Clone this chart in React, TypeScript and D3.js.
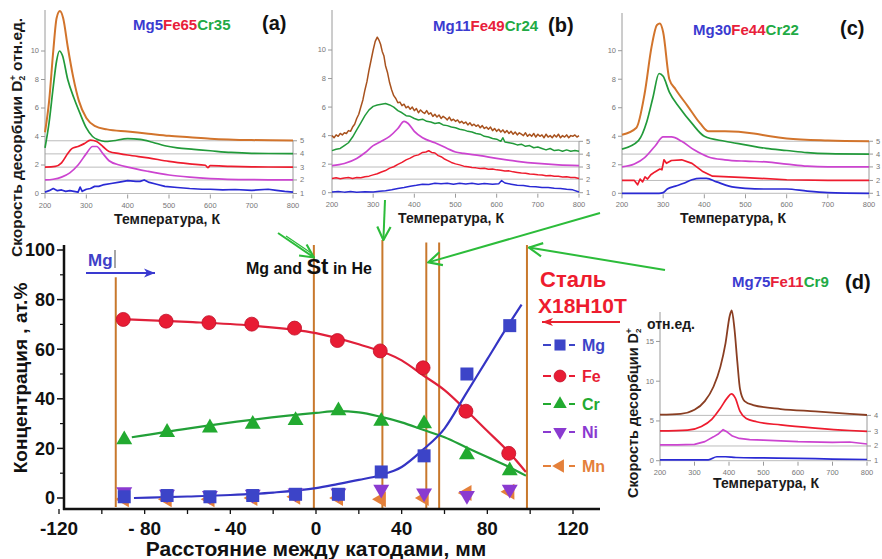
import React from 'react';
import * as d3 from 'd3';

const FONT = "'Liberation Sans', Arial, Helvetica, sans-serif";

// ---------------- main chart data ----------------
const distanceMm = [-90, -70, -50, -30, -10, 10, 30, 50, 70, 90];
const mgConc = [0.5, 1, 0.5, 1, 1.5, 1.5, 10.5, 17, 50, 69.5];
const feConc = [72, 71.3, 70.7, 70.1, 68.5, 63.5, 59.3, 52.5, 35, 18];
const crConc = [23.5, 26.5, 28.3, 29.8, 31.3, 35.2, 31, 30, 17.5, 11];
const niConc = [2.5, 1.5, 1, 1.5, 2, 2, 3.5, 2, 1, 3.5];
const mnConc = [-0.5, -0.5, -0.5, 0, 0.5, 0, -0.5, 0, 2, 2.5];

const fitFe: [number, number][] = [[-88, 72], [-60, 71], [-30, 69.5], [0, 66.5], [20, 62], [40, 55.5], [50, 49.5], [60, 43.5], [70, 35.5], [80, 27], [90, 18.5], [98, 10.5]];
const fitMg: [number, number][] = [[-85, 0], [-60, 0.6], [-40, 1.2], [-20, 2.2], [0, 4], [10, 5.6], [20, 7.3], [30, 9.2], [40, 12.5], [50, 19.5], [60, 28], [70, 42], [80, 56], [90, 70], [96, 78]];
const fitCr: [number, number][] = [[-86, 24.5], [-60, 28], [-30, 31.5], [0, 34.3], [10, 35], [20, 34.5], [30, 32.8], [40, 30.5], [50, 27.5], [60, 24.5], [70, 20.5], [80, 16.5], [90, 12.5], [98, 9]];

const guideX = [-93.5, -1, 31, 51.5, 57.5, 98.5];
const guideTop = [89, 102, 104, 103, 103, 102];

const xTickValues = [-120, -80, -40, 0, 40, 80, 120];
const xTickLabels = ['-120', '- 80', '- 40', '0', '40', '80', '120'];
const xMinorTicks = [-120, -100, -80, -60, -40, -20, 0, 20, 40, 60, 80, 100, 120];
const yTickValues = [0, 20, 40, 60, 80, 100];
const yMinorTicks = [10, 30, 50, 70, 90];

const legendNames = ['Mg', 'Fe', 'Cr', 'Ni', 'Mn'];

// ---------------- TDS panel data ----------------
const aBlue: [number, number][] = [[200, 0.1], [210, 0.2], [220, 0.35], [230, 0.2], [240, 0.25], [250, 0.15], [260, 0.2], [270, 0.15], [280, 0.1], [285, 0.45], [290, 0.15], [300, 0.3], [310, 0.35], [320, 0.5], [330, 0.5], [340, 0.6], [360, 0.7], [380, 0.8], [400, 0.9], [420, 0.85], [430, 0.85], [440, 0.95], [450, 0.8], [470, 0.65], [490, 0.5], [520, 0.42], [550, 0.35], [580, 0.3], [600, 0.3], [630, 0.25], [660, 0.28], [700, 0.22], [740, 0.3], [760, 0.22], [780, 0.15], [800, 0.1]];
const aMagenta: [number, number][] = [[200, 0.95], [220, 1.0], [240, 1.15], [260, 1.45], [280, 2.0], [300, 2.8], [315, 3.3], [325, 3.3], [340, 2.8], [355, 2.3], [380, 2.0], [400, 1.85], [450, 1.55], [500, 1.3], [550, 1.15], [600, 1.05], [700, 0.97], [800, 0.95]];
const aRed: [number, number][] = [[200, 1.85], [225, 1.9], [240, 2.15], [255, 2.8], [265, 3.15], [280, 3.3], [295, 3.5], [310, 3.75], [325, 3.65], [340, 3.3], [355, 2.95], [380, 2.8], [400, 2.7], [450, 2.5], [500, 2.25], [550, 2.08], [588, 1.98], [594, 1.82], [600, 1.95], [650, 1.9], [700, 1.87], [800, 1.85]];
const aGreen: [number, number][] = [[200, 3.2], [210, 5.0], [220, 7.5], [228, 9.3], [235, 10.0], [242, 9.7], [255, 8.0], [270, 6.7], [285, 5.6], [300, 4.6], [315, 4.0], [330, 3.75], [345, 3.65], [365, 3.7], [400, 3.85], [430, 3.8], [460, 3.6], [490, 3.35], [520, 3.2], [560, 3.1], [600, 3.0], [650, 2.88], [700, 2.82], [800, 2.8]];
const aOrange: [number, number][] = [[200, 4.3], [210, 6.5], [220, 10.0], [228, 12.3], [236, 12.8], [244, 12.3], [255, 10.3], [268, 8.2], [282, 6.5], [300, 5.3], [320, 4.75], [350, 4.5], [400, 4.35], [450, 4.2], [500, 4.05], [550, 3.95], [600, 3.85], [700, 3.75], [800, 3.72]];
const aBaselines = [0, 0.95, 1.85, 2.78, 3.7];

const bBlue: [number, number][] = [[200, 0.05], [215, 0.09], [230, 0.04], [245, 0.08], [260, 0.03], [280, 0.07], [300, 0.05], [315, 0.1], [330, 0.13], [345, 0.2], [360, 0.3], [375, 0.36], [390, 0.45], [405, 0.52], [420, 0.6], [435, 0.58], [450, 0.66], [465, 0.62], [480, 0.67], [495, 0.6], [510, 0.66], [525, 0.61], [540, 0.67], [555, 0.6], [570, 0.65], [590, 0.6], [605, 0.63], [612, 0.85], [620, 0.68], [635, 0.6], [650, 0.52], [665, 0.5], [680, 0.44], [695, 0.42], [710, 0.36], [725, 0.37], [740, 0.31], [755, 0.3], [770, 0.24], [785, 0.2], [800, 0.05]];
const bRed: [number, number][] = [[200, 1.0], [210, 1.04], [220, 0.98], [230, 1.03], [240, 1.06], [250, 1.0], [260, 1.07], [270, 1.05], [280, 1.12], [290, 1.16], [300, 1.25], [310, 1.33], [320, 1.45], [330, 1.55], [340, 1.72], [350, 1.82], [360, 1.98], [370, 2.12], [380, 2.3], [390, 2.42], [400, 2.58], [410, 2.65], [420, 2.82], [428, 2.85], [435, 2.94], [442, 2.82], [450, 2.78], [458, 2.6], [465, 2.52], [472, 2.38], [480, 2.27], [490, 2.12], [500, 2.02], [510, 1.95], [520, 1.86], [530, 1.82], [540, 1.76], [550, 1.74], [560, 1.7], [570, 1.72], [580, 1.64], [590, 1.66], [600, 1.6], [610, 1.58], [620, 1.52], [630, 1.53], [640, 1.46], [650, 1.42], [660, 1.38], [670, 1.37], [680, 1.31], [690, 1.3], [700, 1.25], [710, 1.24], [720, 1.19], [730, 1.2], [740, 1.15], [750, 1.16], [760, 1.1], [770, 1.11], [780, 1.06], [790, 1.07], [800, 1.0]];
const bMagenta: [number, number][] = [[200, 1.9], [230, 2.05], [260, 2.4], [280, 2.8], [300, 3.3], [320, 3.6], [340, 3.95], [360, 4.5], [375, 5.0], [385, 4.85], [400, 4.3], [420, 3.85], [450, 3.5], [480, 3.1], [500, 2.85], [520, 2.75], [560, 2.6], [600, 2.4], [650, 2.2], [700, 2.05], [750, 1.95], [800, 1.9]];
const bGreen: [number, number][] = [[200, 2.95], [210, 3.05], [220, 3.1], [230, 3.3], [240, 3.5], [250, 3.9], [260, 4.4], [270, 4.9], [280, 5.4], [290, 5.8], [300, 6.05], [310, 6.15], [320, 6.2], [330, 6.25], [340, 6.15], [350, 6.0], [360, 5.75], [370, 5.6], [380, 5.4], [390, 5.35], [400, 5.2], [410, 5.1], [420, 5.15], [430, 5.0], [440, 4.95], [450, 4.85], [460, 4.9], [470, 4.75], [480, 4.7], [490, 4.6], [500, 4.55], [510, 4.45], [520, 4.4], [530, 4.3], [540, 4.25], [550, 4.15], [560, 4.1], [570, 3.95], [580, 3.9], [590, 3.8], [600, 3.75], [610, 3.6], [615, 3.85], [620, 3.55], [630, 3.5], [640, 3.45], [650, 3.35], [660, 3.4], [670, 3.25], [680, 3.3], [690, 3.15], [700, 3.2], [710, 3.1], [720, 3.0], [730, 3.1], [740, 2.95], [750, 3.0], [760, 2.9], [770, 3.0], [780, 2.9], [790, 2.95], [800, 2.9]];
const bBrown: [number, number][] = [[200, 4.0], [205, 3.85], [210, 4.05], [215, 3.95], [220, 4.15], [225, 4.05], [230, 4.2], [235, 4.15], [240, 4.35], [245, 4.3], [250, 4.6], [255, 4.8], [260, 5.2], [265, 5.5], [270, 6.0], [275, 6.5], [280, 7.2], [285, 7.8], [290, 8.6], [295, 9.3], [300, 10.0], [305, 10.6], [310, 10.9], [314, 10.7], [318, 10.4], [322, 9.9], [326, 9.6], [330, 8.9], [335, 8.4], [340, 7.7], [345, 7.2], [350, 6.8], [355, 6.6], [360, 6.3], [365, 6.35], [370, 6.1], [375, 6.2], [380, 5.95], [385, 6.05], [390, 5.85], [395, 6.0], [400, 5.75], [405, 5.9], [410, 5.6], [415, 5.8], [420, 5.65], [425, 5.55], [430, 5.75], [435, 5.5], [440, 5.6], [445, 5.35], [450, 5.5], [455, 5.3], [460, 5.45], [465, 5.2], [470, 5.35], [475, 5.25], [480, 5.1], [485, 5.3], [490, 5.05], [495, 5.15], [500, 5.0], [505, 5.1], [510, 4.9], [515, 5.0], [520, 4.85], [525, 4.95], [530, 4.75], [535, 4.9], [540, 4.7], [545, 4.8], [550, 4.65], [555, 4.75], [560, 4.55], [565, 4.7], [570, 4.5], [575, 4.6], [580, 4.45], [585, 4.6], [590, 4.35], [595, 4.5], [600, 4.3], [605, 4.45], [610, 4.25], [615, 4.4], [620, 4.2], [625, 4.35], [630, 4.15], [635, 4.3], [640, 4.1], [645, 4.25], [650, 4.05], [655, 4.2], [660, 4.1], [665, 4.0], [670, 4.2], [675, 3.95], [680, 4.1], [685, 3.95], [690, 4.15], [695, 3.9], [700, 4.1], [705, 3.95], [710, 4.05], [715, 3.85], [720, 4.1], [725, 3.9], [730, 4.0], [735, 3.85], [740, 4.05], [745, 3.9], [750, 4.1], [755, 3.85], [760, 4.0], [765, 3.9], [770, 4.05], [775, 3.85], [780, 4.0], [785, 3.95], [790, 4.05], [795, 3.9], [800, 4.0]];
const bBaselines = [0, 0.95, 1.8, 2.7, 3.6];

const cBlue: [number, number][] = [[200, 0], [290, 0], [300, 0.05], [310, 0.3], [330, 0.5], [350, 0.7], [370, 0.95], [390, 1.05], [405, 1.05], [430, 0.8], [460, 0.5], [500, 0.35], [550, 0.3], [600, 0.3], [650, 0.15], [700, 0.05], [800, 0]];
const cRed: [number, number][] = [[200, 0.9], [230, 0.9], [238, 0.6], [244, 1.0], [250, 0.8], [256, 1.15], [262, 1.0], [270, 1.3], [280, 1.5], [292, 1.7], [297, 1.65], [302, 2.35], [308, 2.1], [320, 2.3], [345, 2.35], [370, 2.1], [395, 1.55], [420, 1.2], [500, 1.1], [600, 0.95], [700, 0.9], [800, 0.9]];
const cMagenta: [number, number][] = [[200, 1.85], [230, 2.05], [255, 2.5], [280, 3.3], [300, 3.95], [320, 3.95], [345, 3.65], [375, 3.05], [410, 2.55], [450, 2.35], [500, 2.25], [550, 2.2], [600, 2.05], [650, 1.9], [700, 1.85], [800, 1.85]];
const cGreen: [number, number][] = [[200, 3.1], [240, 3.7], [260, 5.0], [275, 6.7], [290, 8.4], [300, 8.2], [315, 7.1], [340, 6.0], [370, 4.9], [400, 4.0], [450, 3.65], [500, 3.4], [550, 3.15], [600, 3.0], [650, 2.85], [700, 2.78], [800, 2.75]];
const cBrown: [number, number][] = [[200, 4.1], [235, 4.6], [255, 7.0], [272, 10.3], [285, 11.8], [292, 11.9], [300, 11.3], [315, 8.0], [330, 7.3], [360, 6.1], [390, 4.9], [410, 4.35], [450, 4.35], [520, 4.2], [560, 4.0], [600, 3.85], [700, 3.7], [800, 3.65]];
const cBaselines = [0, 0.9, 1.85, 2.75, 3.65];

const dBlue: [number, number][] = [[200, 0.1], [340, 0.1], [365, 0.5], [390, 0.5], [420, 0.4], [500, 0.35], [600, 0.3], [700, 0.2], [800, 0.15]];
const dMagenta: [number, number][] = [[200, 2.0], [250, 2.0], [300, 2.05], [330, 2.4], [355, 3.0], [370, 3.4], [383, 3.9], [395, 3.6], [410, 3.1], [430, 2.8], [460, 2.65], [500, 2.6], [550, 2.5], [600, 2.4], [700, 2.3], [750, 2.35], [800, 2.1]];
const dRed: [number, number][] = [[200, 3.75], [280, 3.85], [320, 4.3], [350, 5.2], [375, 6.6], [395, 7.9], [407, 8.4], [418, 7.9], [432, 6.2], [450, 5.3], [480, 4.9], [550, 4.5], [650, 4.1], [750, 3.8], [800, 3.7]];
const dBrown: [number, number][] = [[200, 5.8], [260, 5.9], [300, 6.4], [330, 7.5], [355, 9.3], [375, 11.8], [390, 14.8], [402, 18.2], [408, 18.9], [416, 16.5], [424, 12.5], [432, 9.0], [445, 7.5], [470, 7.0], [550, 6.5], [650, 6.2], [750, 5.9], [800, 5.75]];
const dBaselines = [0, 1.85, 3.7, 5.7];

// ---------------- colours ----------------
const C_BLUE = '#2a2ad4';
const C_RED = '#ee1c2e';
const C_MAG = '#cc44d0';
const C_GREEN = '#229a3a';
const C_ORANGE = '#d2742c';
const C_BROWN = '#a8521e';

const markBlue = '#3c44c8';
const markRed = '#e81c34';
const markGreen = '#22aa30';
const markPurple = '#8a3ad0';
const markOrange = '#e4803a';
const guideColor = '#c8782c';
const arrowGreen = '#2cbc3a';

type Series = { data: [number, number][]; color: string; curve?: 'linear' | 'smooth'; width?: number };

type PanelProps = {
  left: number; right: number; y0: number; unit: number; axisTop: number;
  yTicks: number[]; baselines: number[]; series: Series[];
  titleX: number; titleY: number; titleParts: [string, string][];
  letter: string; letterX: number; letterY: number;
  xLabelX: number; xLabelY: number;
};

function Panel(p: PanelProps) {
  const x = d3.scaleLinear().domain([200, 800]).range([p.left, p.right]);
  const y = d3.scaleLinear().domain([0, 1]).range([p.y0, p.y0 - p.unit]);
  const xt = [200, 300, 400, 500, 600, 700, 800];
  const bottom = p.y0;
  const topBase = y(p.baselines[p.baselines.length - 1]);
  return (
    <g>
      {p.baselines.map((b, i) => (
        <line key={'g' + i} x1={p.left} x2={p.right} y1={y(b)} y2={y(b)} stroke="#b4b4b4" strokeWidth={0.9} />
      ))}
      <line x1={p.left} x2={p.left} y1={p.axisTop} y2={bottom + 1} stroke="#9a9a9a" strokeWidth={1} />
      <line x1={p.right} x2={p.right} y1={topBase} y2={bottom} stroke="#9a9a9a" strokeWidth={1} />
      {p.yTicks.map((t) => (
        <g key={'yt' + t}>
          <line x1={p.left - 4} x2={p.left} y1={y(t)} y2={y(t)} stroke="#9a9a9a" />
          <text x={p.left - 6} y={y(t)} dy="0.33em" textAnchor="end" fontSize={7.5} fill="#777" fontFamily={FONT}>{t}</text>
        </g>
      ))}
      {p.baselines.map((b, i) => (
        <g key={'rt' + i}>
          <line x1={p.right} x2={p.right + 4} y1={y(b)} y2={y(b)} stroke="#9a9a9a" />
          <text x={p.right + 7} y={y(b)} dy="0.33em" fontSize={7.5} fill="#777" fontFamily={FONT}>{i + 1}</text>
        </g>
      ))}
      {xt.map((t) => (
        <g key={'xt' + t}>
          <line x1={x(t)} x2={x(t)} y1={bottom + 1} y2={bottom + 5} stroke="#9a9a9a" />
          <text x={x(t)} y={bottom + 14} textAnchor="middle" fontSize={7.5} fill="#777" fontFamily={FONT}>{t}</text>
        </g>
      ))}
      {p.series.map((s, i) => {
        const line = d3.line<[number, number]>()
          .x((d) => x(d[0]))
          .y((d) => y(d[1]))
          .curve(s.curve === 'linear' ? d3.curveLinear : d3.curveMonotoneX);
        return <path key={'s' + i} d={line(s.data) || ''} fill="none" stroke={s.color} strokeWidth={s.width ?? 1.7} strokeLinejoin="round" />;
      })}
      <text x={p.titleX} y={p.titleY} fontSize={15} fontWeight="bold" fontFamily={FONT}>
        {p.titleParts.map(([t, c], i) => <tspan key={i} fill={c}>{t}</tspan>)}
      </text>
      <text x={p.letterX} y={p.letterY} fontSize={20} fontWeight="bold" fontFamily={FONT} fill="#111">{p.letter}</text>
      <text x={p.xLabelX} y={p.xLabelY} textAnchor="middle" fontSize={14} fontWeight="bold" fontFamily={FONT} fill="#1a1a1a">Температура, К</text>
    </g>
  );
}

function Marker({ kind, cx, cy, color, size = 1 }: { kind: string; cx: number; cy: number; color: string; size?: number }) {
  if (kind === 'circle') return <circle cx={cx} cy={cy} r={7 * size} fill={color} stroke="#c0102a" strokeWidth={0.8} />;
  if (kind === 'square') return <rect x={cx - 6.5 * size} y={cy - 6.5 * size} width={13 * size} height={13 * size} fill={color} />;
  const tri = d3.symbol().type(d3.symbolTriangle).size(110 * size * size)();
  const rot = kind === 'up' ? 0 : kind === 'down' ? 180 : -90;
  return <path d={tri || ''} transform={`translate(${cx},${cy}) rotate(${rot})`} fill={color} />;
}

export default function App() {
  const x = d3.scaleLinear().domain([-120, 120]).range([59, 573]);
  const y = d3.scaleLinear().domain([0, 100]).range([498, 250]);
  const fitLine = d3.line<[number, number]>().x((d) => x(d[0])).y((d) => y(d[1])).curve(d3.curveMonotoneX);

  const seriesMain = [
    { vals: mgConc, kind: 'square', color: markBlue },
    { vals: feConc, kind: 'circle', color: markRed },
    { vals: crConc, kind: 'up', color: markGreen },
    { vals: niConc, kind: 'down', color: markPurple },
    { vals: mnConc, kind: 'left', color: markOrange },
  ];
  const drawOrder = [4, 3, 0, 2, 1];
  const legendY = [345, 376, 404, 432, 466];

  return (
    <svg width={882} height={559} style={{ position: 'absolute', left: 0, top: 0, background: '#fff' }} fontFamily={FONT}>
      <defs>
        <marker id="gArrow" viewBox="0 0 12 12" refX="11" refY="6" markerWidth="16" markerHeight="16" markerUnits="userSpaceOnUse" orient="auto">
          <path d="M1,1 L11,6 L1,11" fill="none" stroke={arrowGreen} strokeWidth="1.6" />
        </marker>
        <marker id="bArrow" viewBox="0 0 12 12" refX="11" refY="6" markerWidth="14" markerHeight="12" markerUnits="userSpaceOnUse" orient="auto">
          <path d="M0,1.5 L11,6 L0,10.5 L3,6 Z" fill="#3a3ad0" />
        </marker>
        <marker id="rArrow" viewBox="0 0 12 12" refX="11" refY="6" markerWidth="14" markerHeight="12" markerUnits="userSpaceOnUse" orient="auto">
          <path d="M0,2 L11,6 L0,10 L3,6 Z" fill="#e8202e" />
        </marker>
      </defs>
      <rect x={0} y={0} width={882} height={559} fill="#fff" />

      {/* panel (a) */}
      <Panel left={45} right={293} y0={193.5} unit={14.25} axisTop={10} yTicks={[0, 2, 4, 6, 8, 10]} baselines={aBaselines}
        series={[{ data: aBlue, color: C_BLUE, curve: 'linear' }, { data: aMagenta, color: C_MAG }, { data: aRed, color: C_RED }, { data: aGreen, color: C_GREEN }, { data: aOrange, color: C_ORANGE, width: 2 }]}
        titleX={133} titleY={30} titleParts={[['Mg5', '#3b3bd0'], ['Fe65', '#e8203a'], ['Cr35', '#22aa44']]}
        letter="(a)" letterX={262} letterY={30} xLabelX={167} xLabelY={224} />
      {/* panel (b) */}
      <Panel left={332} right={579} y0={192.7} unit={14.27} axisTop={10} yTicks={[0, 2, 4, 6, 8, 10]} baselines={bBaselines}
        series={[{ data: bBlue, color: C_BLUE, curve: 'linear', width: 1.5 }, { data: bRed, color: C_RED, curve: 'linear', width: 1.5 }, { data: bMagenta, color: C_MAG }, { data: bGreen, color: C_GREEN, curve: 'linear', width: 1.5 }, { data: bBrown, color: C_BROWN, curve: 'linear', width: 1.5 }]}
        titleX={433} titleY={31} titleParts={[['Mg11', '#3b3bd0'], ['Fe49', '#e8203a'], ['Cr24', '#22aa44']]}
        letter="(b)" letterX={548} letterY={32} xLabelX={451} xLabelY={223} />
      {/* panel (c) */}
      <Panel left={622} right={869} y0={193.3} unit={14.26} axisTop={13} yTicks={[0, 2, 4, 6, 8, 10]} baselines={cBaselines}
        series={[{ data: cBlue, color: C_BLUE }, { data: cRed, color: C_RED, curve: 'linear' }, { data: cMagenta, color: C_MAG }, { data: cGreen, color: C_GREEN }, { data: cBrown, color: C_ORANGE, width: 2 }]}
        titleX={693} titleY={35} titleParts={[['Mg30', '#3b3bd0'], ['Fe44', '#e8203a'], ['Cr22', '#22aa44']]}
        letter="(c)" letterX={840} letterY={35} xLabelX={733} xLabelY={223} />
      {/* panel (d) */}
      <Panel left={660} right={867} y0={460.7} unit={7.95} axisTop={312} yTicks={[0, 5, 10, 15]} baselines={dBaselines}
        series={[{ data: dBlue, color: C_BLUE }, { data: dMagenta, color: C_MAG, curve: 'linear' }, { data: dRed, color: C_RED }, { data: dBrown, color: '#8a3e22', width: 1.8 }]}
        titleX={732} titleY={287} titleParts={[['Mg75', '#3b3bd0'], ['Fe11', '#e8203a'], ['Cr9', '#22aa44']]}
        letter="(d)" letterX={845} letterY={289} xLabelX={766} xLabelY={488} />

      {/* panel y labels */}
      <text transform="translate(22,257) rotate(-90)" fontSize={15.5} fontWeight="bold" fill="#1a1a1a">
        <tspan>Скорость десорбции  D</tspan>
        <tspan fontSize={8.5} dy={3}>2</tspan>
        <tspan fontSize={9.5} dx={-5} dy={-9}>+</tspan>
        <tspan dy={6}> отн.ед.</tspan>
      </text>
      <text transform="translate(638,498) rotate(-90)" fontSize={14.5} fontWeight="bold" fill="#1a1a1a">
        <tspan>Скорость десорбции  D</tspan>
        <tspan fontSize={8} dy={3}>2</tspan>
        <tspan fontSize={9} dx={-5} dy={-9}>+</tspan>
      </text>
      <text x={647} y={329} fontSize={14} fontWeight="bold" fill="#1a1a1a">отн.ед.</text>

      {/* main chart: guide lines */}
      {guideX.map((g, i) => (
        <line key={'gl' + i} x1={x(g)} x2={x(g)} y1={y(guideTop[i])} y2={i === 0 ? 507 : 509} stroke={guideColor} strokeWidth={2} />
      ))}

      {/* axes */}
      <line x1={64} x2={64} y1={245} y2={510} stroke="#111" strokeWidth={2.5} />
      <line x1={63} x2={600} y1={509} y2={509} stroke="#111" strokeWidth={2.5} />
      {yTickValues.map((t) => (
        <g key={'my' + t}>
          <line x1={57} x2={64} y1={y(t)} y2={y(t)} stroke="#111" strokeWidth={1.5} />
          <text x={55} y={y(t)} dy="0.36em" textAnchor="end" fontSize={18} fontWeight="bold" fill="#111">{t}</text>
        </g>
      ))}
      {yMinorTicks.map((t) => (
        <line key={'mym' + t} x1={60} x2={64} y1={y(t)} y2={y(t)} stroke="#111" strokeWidth={1.2} />
      ))}
      {xMinorTicks.map((t) => (
        <line key={'mxm' + t} x1={x(t)} x2={x(t)} y1={509} y2={514} stroke="#111" strokeWidth={1.3} />
      ))}
      {xTickValues.map((t, i) => (
        <text key={'mx' + t} x={x(t)} y={535} textAnchor="middle" fontSize={19} fontWeight="bold" fill="#111">{xTickLabels[i]}</text>
      ))}
      <text x={316} y={556} textAnchor="middle" fontSize={21} fontWeight="bold" fill="#111">Расстояние между катодами, мм</text>
      <text transform="translate(27,378) rotate(-90)" textAnchor="middle" fontSize={19} fontWeight="bold" fill="#111">Концентрация , ат.%</text>

      {/* fit curves */}
      <path d={fitLine(fitFe) || ''} fill="none" stroke="#e0203a" strokeWidth={2.2} />
      <path d={fitLine(fitCr) || ''} fill="none" stroke="#22a038" strokeWidth={2.2} />
      <path d={fitLine(fitMg) || ''} fill="none" stroke="#3434c4" strokeWidth={2.2} />

      {/* markers */}
      {drawOrder.map((si) => {
        const s = seriesMain[si];
        return s.vals.map((v, j) => (
          <Marker key={si + '-' + j} kind={s.kind} cx={x(distanceMm[j]) + (si === 1 ? 0 : 1)} cy={y(v)} color={s.color} />
        ));
      })}

      {/* legend */}
      {seriesMain.map((s, i) => (
        <g key={'lg' + i}>
          <line x1={543} x2={551} y1={legendY[i]} y2={legendY[i]} stroke={s.color} strokeWidth={2} />
          <Marker kind={s.kind} cx={560} cy={legendY[i]} color={s.color} size={0.85} />
          <line x1={569} x2={575} y1={legendY[i]} y2={legendY[i]} stroke={s.color} strokeWidth={2} />
          <text x={582} y={legendY[i]} dy="0.36em" fontSize={16} fontWeight="bold" fill={s.color}>{legendNames[i]}</text>
        </g>
      ))}

      {/* annotations */}
      <text x={88} y={266} fontSize={17} fontWeight="bold" fill="#4040c8">Mg</text>
      <line x1={115} x2={115} y1={250} y2={268} stroke="#888" strokeWidth={1.5} />
      <line x1={86} x2={155} y1={273} y2={273} stroke="#3a3ad0" strokeWidth={2} markerEnd="url(#bArrow)" />
      <text x={246} y={274} fontSize={16} fontWeight="bold" fill="#111">
        <tspan>Mg and </tspan><tspan fontSize={22}>St</tspan><tspan>  in He</tspan>
      </text>
      <text x={540} y={287} fontSize={22} fontWeight="bold" fill="#ee1c2e">Сталь</text>
      <text x={538} y={313} fontSize={21} fontWeight="bold" fill="#ee1c2e">X18H10T</text>
      <line x1={620} x2={542} y1={322} y2={322} stroke="#e8202e" strokeWidth={2} markerEnd="url(#rArrow)" />

      {/* green arrows */}
      <line x1={278} y1={233} x2={x(guideX[1])} y2={y(97)} stroke={arrowGreen} strokeWidth={2} markerEnd="url(#gArrow)" />
      <line x1={286} y1={236} x2={x(guideX[1]) - 2} y2={y(97) - 4} stroke={arrowGreen} strokeWidth={1.3} />
      <line x1={385} y1={200} x2={x(guideX[2]) + 1} y2={y(104)} stroke={arrowGreen} strokeWidth={2} markerEnd="url(#gArrow)" />
      <line x1={600} y1={213} x2={x(guideX[3]) + 2} y2={y(95)} stroke={arrowGreen} strokeWidth={2} markerEnd="url(#gArrow)" />
      <line x1={665} y1={270} x2={x(guideX[5]) + 2} y2={y(101)} stroke={arrowGreen} strokeWidth={2} markerEnd="url(#gArrow)" />
    </svg>
  );
}
